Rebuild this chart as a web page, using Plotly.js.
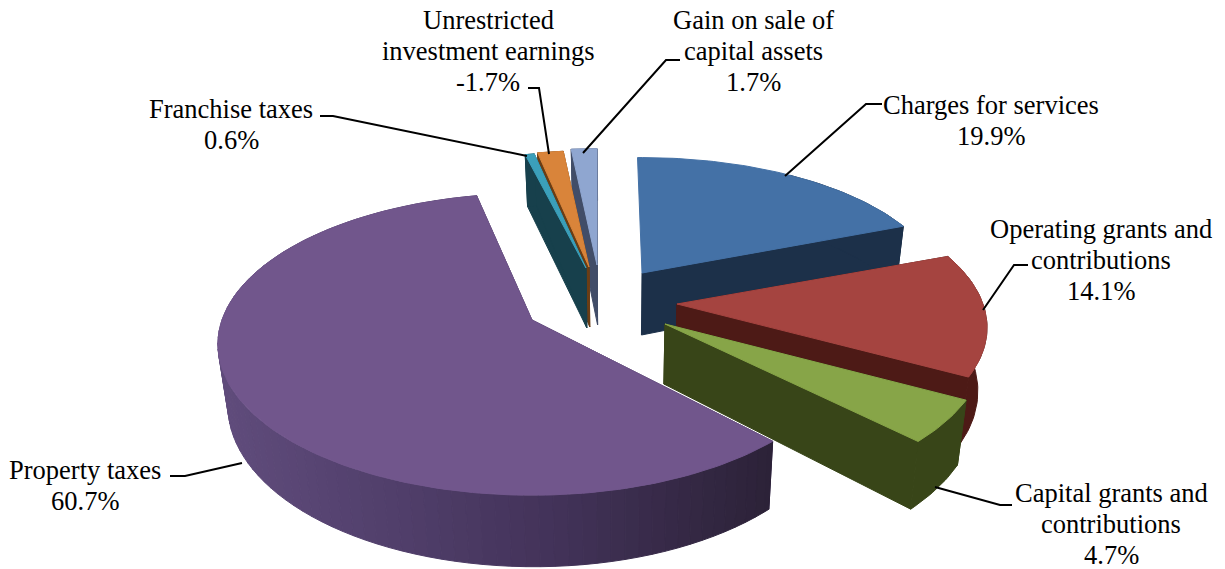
<!DOCTYPE html>
<html>
<head>
<meta charset="utf-8">
<script src="https://cdn.plot.ly/plotly-3.0.1.min.js"></script>
<style>html,body{margin:0;padding:0;background:#fff;overflow:hidden}#chart{width:1225px;height:569px}</style>
</head>
<body>
<div id="chart"></div>
<script>
// ---- data ----
const categories = ["Charges for services","Operating grants and|contributions","Capital grants and|contributions","Property taxes","Franchise taxes","Unrestricted|investment earnings","Gain on sale of|capital assets"];
const shares = [19.9, 14.1, 4.7, 60.7, 0.6, -1.7, 1.7];

// ---- styling and view geometry ----
const topColors  = ["#4471a6","#a54440","#87a548","#71568c","#3b9fba","#d9843a","#8fa6d0"];
const sideColors = ["#1c3049","#4d1a16","#384518","#3f3056","#17404c","#6b3d14","#414d68"];
const apexX  = [642, 677, 665, 532, 586, 589, 597];
const apexY  = [273, 304, 324, 320, 268, 267, 265];
const radX   = [298, 306, 316, 310, 292, 290, 290];
const radY   = [134, 142, 148, 147, 135, 135, 135];
const depth  = [62, 62, 60, 60, 60, 60, 60];
const tiltDeg = [-1, 0, 0, 2, 0, 0, 0];
const hiddenStart = [true, false, false, false, false, false, false];
const labelX = [991, 1101, 1111, 85, 231, 488, 753];
const labelY = [120, 260, 524, 485, 124, 51, 51];
const drawOrder = [0, 6, 5, 4, 1, 2, 3];
const perspective = 0.161, shrink = 0.025, vanishX = 620, fontSize = 26.5, lineGap = 31;
const leaders = [
  [[785,866,882],[176,104,104]],
  [[983,1014,1028],[310,265,265]],
  [[935,1000,1012],[487,505,505]],
  [[242,185,170],[463,476,476]],
  [[527,333,320],[156,116,116]],
  [[549,539,528],[154,88,88]],
  [[583,666,680],[153,60,60]]
];
const rimStops = [[216,[96,76,124]],[400,[80,62,106]],[560,[66,50,88]],[771,[44,34,56]]];

// ---- projection of the pie plane ----
const total = shares.reduce((a, b) => a + Math.abs(b), 0);
let running = 0;
const slices = shares.map((v, i) => {
  const t = tiltDeg[i] * Math.PI / 180;
  const start = running / total * 2 * Math.PI + t;
  running += Math.abs(v);
  return {i, start, end: running / total * 2 * Math.PI + t};
});
function topPt(i, a) {
  const u = Math.sin(a), w = -Math.cos(a), s = 1 / (1 - perspective * w);
  return {x: apexX[i] + radX[i] * u * s, y: apexY[i] + radY[i] * w * s, s};
}
function apexTop(i) { return {x: apexX[i], y: apexY[i], s: 1}; }
function drop(i, p) { return {x: p.x + (vanishX - p.x) * shrink, y: p.y + depth[i] * p.s}; }
function arc(sl, a0, a1) {
  const n = Math.max(3, Math.ceil(Math.abs(a1 - a0) / 0.02)), out = [];
  for (let k = 0; k <= n; k++) out.push(topPt(sl.i, a0 + (a1 - a0) * k / n));
  return out;
}
function polyTrace(poly, color) {
  const x = poly.map(q => q.x).concat(poly[0].x), y = poly.map(q => q.y).concat(poly[0].y);
  return {type:"scatter", mode:"lines", x, y, fill:"toself", fillcolor:color,
          line:{color:color, width:1}, hoverinfo:"skip", showlegend:false};
}
function rimColor(x) {
  for (let k = 0; k < rimStops.length - 1; k++) {
    const [x0, c0] = rimStops[k], [x1, c1] = rimStops[k+1];
    if (x <= x1 || k === rimStops.length - 2) {
      const f = Math.min(1, Math.max(0, (x - x0) / (x1 - x0)));
      return "rgb(" + c0.map((c, j) => Math.round(c + (c1[j] - c) * f)).join(",") + ")";
    }
  }
}
const traces = [];
drawOrder.forEach(idx => {
  const sl = slices[idx], i = sl.i, A = apexTop(i), a = arc(sl, sl.start, sl.end);
  if (!hiddenStart[i]) traces.push(polyTrace([A, a[0], drop(i, a[0]), drop(i, A)], sideColors[i]));
  traces.push(polyTrace([A, a[a.length-1], drop(i, a[a.length-1]), drop(i, A)], sideColors[i]));
  if (i === 3) {
    // the long rim of the large slice darkens from left to right: walk it from the
    // back end so that each lighter strip lies under the next one
    const seg = 2;
    for (let k = a.length - 1; k > 0; k -= seg) {
      const part = a.slice(Math.max(0, k - seg), k + 1);
      const mid = part[Math.floor(part.length / 2)].x;
      traces.push(polyTrace(part.concat(part.slice().reverse().map(p => drop(i, p))), rimColor(mid)));
    }
  } else {
    const r = hiddenStart[i] ? a.slice(Math.floor(a.length / 2)) : a;
    traces.push(polyTrace(r.concat(r.slice().reverse().map(p => drop(i, p))), sideColors[i]));
  }
  traces.push(polyTrace([A].concat(a), topColors[i]));
});
leaders.forEach(l => traces.push({type:"scatter", mode:"lines", x:l[0], y:l[1],
  line:{color:"#000", width:2}, hoverinfo:"skip", showlegend:false}));

const annotations = [];
categories.forEach((c, i) => {
  const lines = c.split("|").concat(shares[i].toFixed(1) + "%");
  lines.forEach((t, k) => annotations.push({
    x: labelX[i], y: labelY[i] + (k - (lines.length - 1) / 2) * lineGap,
    xref:"x", yref:"y", xanchor:"center", yanchor:"middle", showarrow:false, align:"center", text:t,
    font:{family:"Liberation Serif, Times New Roman, serif", size:fontSize, color:"#000"}
  }));
});

Plotly.newPlot("chart", traces, {
  width:1225, height:569, margin:{l:0,r:0,t:0,b:0}, showlegend:false,
  paper_bgcolor:"#fff", plot_bgcolor:"#fff", hovermode:false,
  xaxis:{range:[0,1225], visible:false, fixedrange:true},
  yaxis:{range:[569,0], visible:false, fixedrange:true},
  annotations
}, {staticPlot:true, displayModeBar:false});
</script>
</body>
</html>
